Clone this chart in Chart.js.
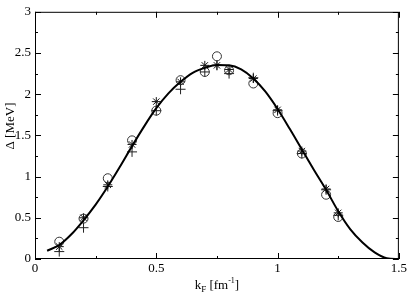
<!DOCTYPE html>
<html><head><meta charset="utf-8">
<script src="https://cdn.jsdelivr.net/npm/chart.js@4/dist/chart.umd.min.js"></script>
<style>html,body{margin:0;padding:0;background:#fff}#wrap{width:409px;height:298px}</style>
</head><body><div id="wrap"><canvas id="c" width="409" height="298"></canvas></div>
<script>
// Data
const kPoints = [0.1,0.2,0.3,0.4,0.5,0.6,0.7,0.75,0.8,0.9,1.0,1.1,1.2,1.25];
const circleVals = [0.21,0.49,0.98,1.44,1.80,2.17,2.27,2.46,2.29,2.13,1.77,1.28,0.78,0.51];
const starVals   = [0.15,0.50,0.90,1.39,1.91,2.15,2.35,2.35,2.30,2.19,1.81,1.31,0.85,0.56];
const plusVals   = [0.09,0.38,0.88,1.30,1.80,2.06,2.27,2.35,2.25,2.20,1.80,1.28,0.84,0.53];
const curveK   = [0.05,0.1,0.15,0.2,0.25,0.3,0.35,0.4,0.45,0.5,0.55,0.6,0.65,0.7,0.75,0.8,0.85,0.9,0.95,1.0,1.05,1.1,1.15,1.2,1.25,1.3,1.35,1.4,1.45,1.5];
const curveVals= [0.10,0.17,0.30,0.47,0.66,0.88,1.12,1.37,1.61,1.83,2.01,2.15,2.26,2.32,2.355,2.35,2.30,2.19,2.03,1.82,1.58,1.33,1.08,0.84,0.58,0.36,0.20,0.08,0.01,0.00];
const xMajor = [0,0.5,1,1.5];
const xMinor = [0.25,0.75,1.25];
const yMajor = [0,0.5,1,1.5,2,2.5,3];
const yMinor = [0.25,0.75,1.25,1.75,2.25,2.75];

const pts = (xs, ys) => xs.map((x,i)=>({x:x,y:ys[i]}));
const FONT = '"Liberation Serif","DejaVu Serif",serif';

const frame = {
  id:'frame',
  afterDraw(chart){
    const {ctx, chartArea:a, scales:{x,y}} = chart;
    ctx.save();
    ctx.strokeStyle='#000'; ctx.lineWidth=1;
    ctx.strokeRect(a.left+0.5, a.top+0.5, a.right-a.left-1, a.bottom-a.top-1);
    ctx.beginPath();
    const tick=(xs,len)=>xs.forEach(v=>{const p=Math.round(x.getPixelForValue(v))+0.5;
      ctx.moveTo(p,a.bottom);ctx.lineTo(p,a.bottom-len);ctx.moveTo(p,a.top);ctx.lineTo(p,a.top+len);});
    const ticky=(ys,len)=>ys.forEach(v=>{const p=Math.round(y.getPixelForValue(v))+0.5;
      ctx.moveTo(a.left,p);ctx.lineTo(a.left+len,p);ctx.moveTo(a.right,p);ctx.lineTo(a.right-len,p);});
    tick(xMajor,6); tick(xMinor,3); ticky(yMajor,6); ticky(yMinor,3);
    ctx.stroke();
    // titles
    ctx.fillStyle='#000';
    ctx.font='13px '+FONT; ctx.textBaseline='alphabetic';
    // x title: k_F [fm^-1]
    const cx=(a.left+a.right)/2, by=289;
    const parts=[['k',13,0],['F',9,3],[' [fm',13,0],['-1',8,-6],[']',13,0]];
    let w=0; parts.forEach(p=>{ctx.font=p[1]+'px '+FONT; w+=ctx.measureText(p[0]).width;});
    let xx=cx-w/2;
    parts.forEach(p=>{ctx.font=p[1]+'px '+FONT; ctx.fillText(p[0],xx,by+p[2]); xx+=ctx.measureText(p[0]).width;});
    // y title
    ctx.save(); ctx.translate(14,126); ctx.rotate(-Math.PI/2);
    ctx.font='13px '+FONT; ctx.textAlign='center'; ctx.fillText('\u0394 [MeV]',0,0);
    ctx.restore();
    ctx.restore();
  }
};

new Chart(document.getElementById('c'),{
  type:'scatter',
  data:{datasets:[
    {data:pts(curveK,curveVals),showLine:true,borderColor:'#000',borderWidth:2,pointRadius:0,cubicInterpolationMode:'monotone',order:0},
    {data:pts(kPoints,circleVals),pointStyle:'circle',pointRadius:4.5,borderColor:'#333',backgroundColor:'rgba(0,0,0,0)',borderWidth:1},
    {data:pts(kPoints,starVals),pointStyle:'star',pointRadius:4.5,borderColor:'#111',backgroundColor:'rgba(0,0,0,0)',borderWidth:1},
    {data:pts(kPoints,plusVals),pointStyle:'cross',pointRadius:5,borderColor:'#222',backgroundColor:'rgba(0,0,0,0)',borderWidth:1}
  ]},
  options:{
    responsive:false,animation:false,
    layout:{padding:{left:0,right:10,top:5,bottom:0}},
    plugins:{legend:{display:false},tooltip:{enabled:false}},
    scales:{
      x:{type:'linear',min:0,max:1.5,
        afterFit(s){s.height=39;},
        afterBuildTicks(s){s.ticks=xMajor.map(v=>({value:v}));},
        grid:{display:false,drawTicks:false,tickLength:0},border:{display:false},
        ticks:{font:{family:FONT,size:13},color:'#000',padding:2,maxRotation:0,autoSkip:false,callback:v=>String(v)}},
      y:{type:'linear',min:0,max:3,
        afterFit(s){s.width=35;},
        afterBuildTicks(s){s.ticks=yMajor.map(v=>({value:v}));},
        grid:{display:false,drawTicks:false,tickLength:0},border:{display:false},
        ticks:{font:{family:FONT,size:13},color:'#000',padding:4,autoSkip:false,callback:v=>String(v)}}
    }
  },
  plugins:[frame]
});
</script></body></html>
